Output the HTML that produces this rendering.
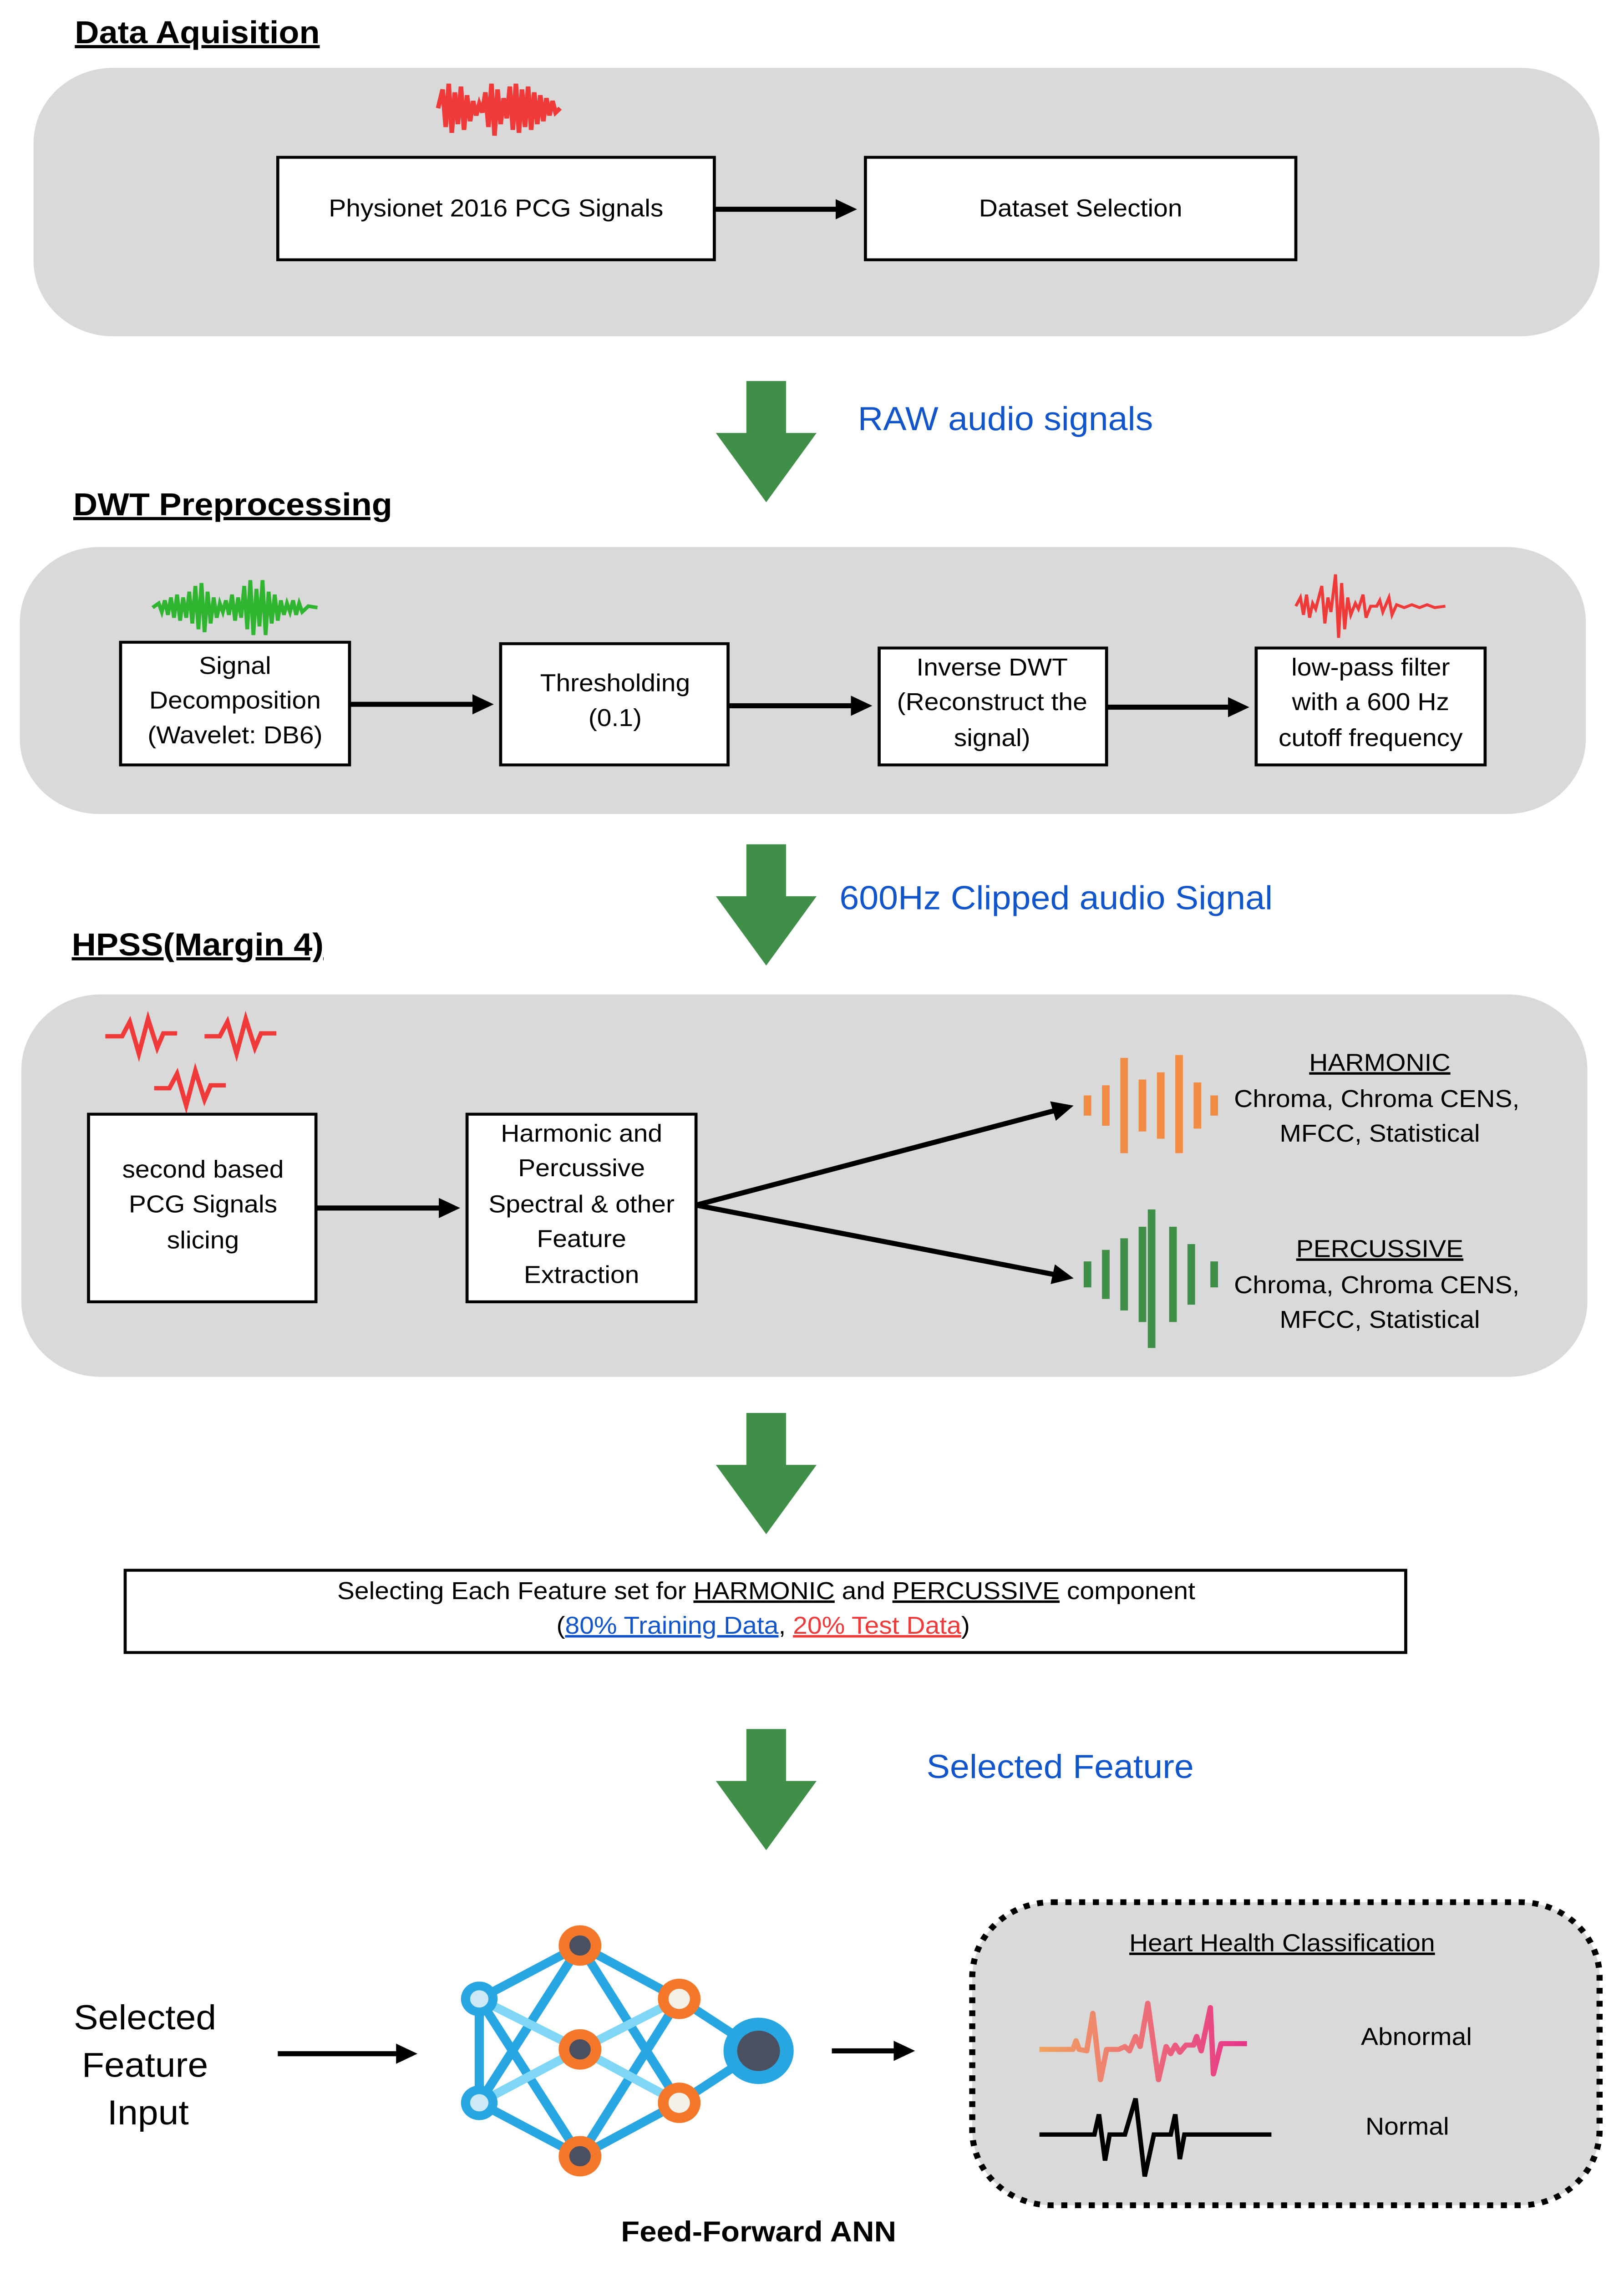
<!DOCTYPE html>
<html><head><meta charset="utf-8"><style>
html,body{margin:0;padding:0;background:#fff;width:100%;height:100%;overflow:hidden;}
svg{display:block;position:absolute;left:0;top:0;width:100%;height:100%;}
text{font-family:"Liberation Sans",Arial,sans-serif;}
</style></head><body>
<svg viewBox="0 0 1064 1577" preserveAspectRatio="none" xmlns="http://www.w3.org/2000/svg">
<defs>
<marker id="ah" markerWidth="4" markerHeight="4" refX="3" refY="2" orient="auto" markerUnits="strokeWidth"><path d="M0,0 L4,2 L0,4 z" fill="#000"/></marker>
<linearGradient id="ab" x1="0" x2="1" y1="0" y2="0"><stop offset="0" stop-color="#f0a35e"/><stop offset="0.5" stop-color="#ec6f77"/><stop offset="1" stop-color="#e6338a"/></linearGradient>
<g id="garrow"><rect x="489" y="0" width="26" height="38" fill="#3f8f48"/><path d="M469,36 L535,36 L502,84 z" fill="#3f8f48"/></g>
</defs>

<text x="49" y="30" font-size="22" font-weight="bold" text-decoration="underline">Data Aquisition</text>
<rect x="22" y="47" width="1026" height="186" rx="52" fill="#d9d9d9"/>
<path d="M287,75 L290,62 L292,88 L294,58 L296,92 L298,64 L300,86 L302,60 L304,90 L306,66 L308,84 L310,70 L312,80 L314,72 L316,78 L318,64 L320,88 L322,58 L324,94 L326,62 L328,86 L330,68 L332,82 L334,60 L336,90 L338,58 L340,92 L342,62 L344,88 L346,60 L348,90 L350,64 L352,86 L354,66 L356,84 L358,68 L360,80 L362,70 L364,78 L367,75" stroke="#f03a3a" stroke-width="3" fill="none"/>
<rect x="182" y="109" width="286" height="71" fill="#fff" stroke="#000" stroke-width="2"/>
<text x="325" y="150" font-size="17" text-anchor="middle">Physionet 2016 PCG Signals</text>
<rect x="567" y="109" width="282" height="71" fill="#fff" stroke="#000" stroke-width="2"/>
<text x="708" y="150" font-size="17" text-anchor="middle">Dataset Selection</text>
<line x1="468" y1="145" x2="558" y2="145" stroke="#000" stroke-width="3.5" marker-end="url(#ah)"/>

<use href="#garrow" y="264"/>
<text x="562" y="298" font-size="23" fill="#1155cc">RAW audio signals</text>

<text x="48" y="357" font-size="22" font-weight="bold" text-decoration="underline">DWT Preprocessing</text>
<rect x="13" y="379" width="1026" height="185" rx="52" fill="#d9d9d9"/>
<path d="M100,421 L104,418 L106,424 L108,416 L110,426 L112,414 L114,428 L116,412 L118,430 L120,414 L122,428 L124,410 L126,432 L128,406 L130,436 L132,404 L134,438 L136,410 L138,432 L140,414 L142,428 L144,418 L146,424 L148,416 L150,426 L152,412 L154,430 L156,414 L158,428 L160,406 L162,436 L164,402 L166,440 L168,408 L170,434 L172,402 L174,440 L176,410 L178,432 L180,412 L182,430 L184,416 L186,426 L188,418 L190,424 L192,416 L194,426 L196,418 L198,424 L202,420 L208,421" stroke="#2fb52f" stroke-width="2.5" fill="none"/>
<path d="M849,420 L852,414 L854,426 L856,412 L858,428 L860,418 L862,422 L866,406 L868,432 L870,414 L872,424 L875,398 L877,442 L879,404 L881,436 L883,414 L885,426 L888,418 L890,422 L893,412 L895,428 L898,420 L902,420 L904,416 L906,424 L910,414 L912,426 L915,419 L920,421 L925,419 L930,421 L935,419 L940,421 L947,420" stroke="#f03a3a" stroke-width="2" fill="none"/>
<rect x="79" y="445" width="150" height="85" fill="#fff" stroke="#000" stroke-width="2"/>
<text font-size="17" text-anchor="middle"><tspan x="154" y="467">Signal</tspan><tspan x="154" y="491">Decomposition</tspan><tspan x="154" y="515">(Wavelet: DB6)</tspan></text>
<rect x="328" y="446" width="149" height="84" fill="#fff" stroke="#000" stroke-width="2"/>
<text font-size="17" text-anchor="middle"><tspan x="403" y="479">Thresholding</tspan><tspan x="403" y="503">(0.1)</tspan></text>
<rect x="576" y="449" width="149" height="81" fill="#fff" stroke="#000" stroke-width="2"/>
<text font-size="17" text-anchor="middle"><tspan x="650" y="468">Inverse DWT</tspan><tspan x="650" y="492">(Reconstruct the</tspan><tspan x="650" y="517">signal)</tspan></text>
<rect x="823" y="449" width="150" height="81" fill="#fff" stroke="#000" stroke-width="2"/>
<text font-size="17" text-anchor="middle"><tspan x="898" y="468">low-pass filter</tspan><tspan x="898" y="492">with a 600 Hz</tspan><tspan x="898" y="517">cutoff frequency</tspan></text>
<line x1="229" y1="488" x2="320" y2="488" stroke="#000" stroke-width="3.5" marker-end="url(#ah)"/>
<line x1="477" y1="489" x2="568" y2="489" stroke="#000" stroke-width="3.5" marker-end="url(#ah)"/>
<line x1="725" y1="490" x2="815" y2="490" stroke="#000" stroke-width="3.5" marker-end="url(#ah)"/>

<use href="#garrow" y="585"/>
<text x="550" y="630" font-size="23" fill="#1155cc">600Hz Clipped audio Signal</text>

<text x="47" y="662" font-size="22" font-weight="bold" text-decoration="underline">HPSS(Margin 4)</text>
<rect x="14" y="689" width="1026" height="265" rx="52" fill="#d9d9d9"/>
<g stroke="#f03a3a" stroke-width="3" fill="none">
<path d="M69,718 L80,718 L85,708 L91,730 L97,706 L103,726 L107,716 L116,716"/>
<path d="M134,718 L144,718 L149,708 L155,730 L161,706 L167,726 L171,716 L181,716"/>
<path d="M101,754 L111,754 L116,744 L122,766 L128,742 L134,762 L138,752 L148,752"/>
</g>
<rect x="58" y="772" width="149" height="130" fill="#fff" stroke="#000" stroke-width="2"/>
<text font-size="17" text-anchor="middle"><tspan x="133" y="816">second based</tspan><tspan x="133" y="840">PCG Signals</tspan><tspan x="133" y="865">slicing</tspan></text>
<rect x="306" y="772" width="150" height="130" fill="#fff" stroke="#000" stroke-width="2"/>
<text font-size="17" text-anchor="middle"><tspan x="381" y="791">Harmonic and</tspan><tspan x="381" y="815">Percussive</tspan><tspan x="381" y="840">Spectral &amp; other</tspan><tspan x="381" y="864">Feature</tspan><tspan x="381" y="889">Extraction</tspan></text>
<line x1="207" y1="837" x2="298" y2="837" stroke="#000" stroke-width="3.5" marker-end="url(#ah)"/>
<line x1="456" y1="835" x2="700" y2="767" stroke="#000" stroke-width="3.5" marker-end="url(#ah)"/>
<line x1="456" y1="835" x2="700" y2="885" stroke="#000" stroke-width="3.5" marker-end="url(#ah)"/>
<g fill="#f28c45">
<rect x="710" y="759" width="5" height="14"/><rect x="722" y="752" width="5" height="28"/><rect x="734" y="733" width="5" height="66"/><rect x="746" y="748" width="5" height="36"/><rect x="758" y="743" width="5" height="46"/><rect x="770" y="731" width="5" height="68"/><rect x="782" y="750" width="5" height="32"/><rect x="793" y="759" width="5" height="14"/>
</g>
<g fill="#3f8f48">
<rect x="710" y="874" width="5" height="18"/><rect x="722" y="866" width="5" height="34"/><rect x="734" y="858" width="5" height="50"/><rect x="746" y="850" width="5" height="66"/><rect x="752" y="838" width="5" height="96"/><rect x="766" y="850" width="5" height="66"/><rect x="778" y="862" width="5" height="42"/><rect x="793" y="874" width="5" height="18"/>
</g>
<text font-size="17" text-anchor="middle"><tspan x="904" y="742" text-decoration="underline">HARMONIC</tspan><tspan x="902" y="767">Chroma, Chroma CENS,</tspan><tspan x="904" y="791">MFCC, Statistical</tspan></text>
<text font-size="17" text-anchor="middle"><tspan x="904" y="871" text-decoration="underline">PERCUSSIVE</tspan><tspan x="902" y="896">Chroma, Chroma CENS,</tspan><tspan x="904" y="920">MFCC, Statistical</tspan></text>

<use href="#garrow" y="979"/>

<rect x="82" y="1088" width="839" height="57" fill="#fff" stroke="#000" stroke-width="2"/>
<text font-size="17" text-anchor="middle"><tspan x="502" y="1108">Selecting Each Feature set for <tspan text-decoration="underline">HARMONIC</tspan> and <tspan text-decoration="underline">PERCUSSIVE</tspan> component</tspan><tspan x="500" y="1132">(<tspan fill="#1155cc" text-decoration="underline">80% Training Data</tspan>, <tspan fill="#f03a3a" text-decoration="underline">20% Test Data</tspan>)</tspan></text>

<use href="#garrow" y="1198"/>
<text x="607" y="1232" font-size="23" fill="#1155cc">Selected Feature</text>

<text font-size="24" text-anchor="middle"><tspan x="95" y="1406">Selected</tspan><tspan x="95" y="1439">Feature</tspan><tspan x="97" y="1472">Input</tspan></text>
<line x1="182" y1="1423" x2="270" y2="1423" stroke="#000" stroke-width="3.5" marker-end="url(#ah)"/>
<line x1="545" y1="1421" x2="596" y2="1421" stroke="#000" stroke-width="3.5" marker-end="url(#ah)"/>
<g stroke="#27a6e2" stroke-width="6" stroke-linecap="round">
<line x1="314" y1="1385" x2="380" y2="1348"/><line x1="314" y1="1385" x2="380" y2="1494"/>
<line x1="314" y1="1457" x2="380" y2="1348"/><line x1="314" y1="1457" x2="380" y2="1494"/>
<line x1="380" y1="1348" x2="445" y2="1385"/><line x1="380" y1="1348" x2="445" y2="1457"/>
<line x1="380" y1="1494" x2="445" y2="1385"/><line x1="380" y1="1494" x2="445" y2="1457"/>
<line x1="314" y1="1385" x2="314" y2="1457"/>
<line x1="445" y1="1385" x2="497" y2="1421"/><line x1="445" y1="1457" x2="497" y2="1421"/>
</g>
<g stroke="#7fd6f5" stroke-width="6" stroke-linecap="round">
<line x1="314" y1="1385" x2="380" y2="1420"/><line x1="314" y1="1457" x2="380" y2="1420"/>
<line x1="380" y1="1420" x2="445" y2="1385"/><line x1="380" y1="1420" x2="445" y2="1457"/>
</g>
<g>
<circle cx="314" cy="1385" r="12" fill="#27a6e2"/><circle cx="314" cy="1385" r="6" fill="#cde9f5"/>
<circle cx="314" cy="1457" r="12" fill="#27a6e2"/><circle cx="314" cy="1457" r="6" fill="#cde9f5"/>
<circle cx="380" cy="1348" r="14" fill="#f4772a"/><circle cx="380" cy="1348" r="7" fill="#4a5060"/>
<circle cx="380" cy="1420" r="14" fill="#f4772a"/><circle cx="380" cy="1420" r="7" fill="#4a5060"/>
<circle cx="380" cy="1494" r="14" fill="#f4772a"/><circle cx="380" cy="1494" r="7" fill="#4a5060"/>
<circle cx="445" cy="1385" r="14" fill="#f4772a"/><circle cx="445" cy="1385" r="7" fill="#f3f0e8"/>
<circle cx="445" cy="1457" r="14" fill="#f4772a"/><circle cx="445" cy="1457" r="7" fill="#f3f0e8"/>
<circle cx="497" cy="1421" r="23" fill="#27a6e2"/><circle cx="497" cy="1421" r="14" fill="#4a5060"/>
</g>
<text x="497" y="1553" font-size="20" font-weight="bold" text-anchor="middle">Feed-Forward ANN</text>

<rect x="637" y="1318" width="411" height="210" rx="52" fill="#d9d9d9" stroke="#000" stroke-width="4" stroke-dasharray="4,5"/>
<text x="840" y="1352" font-size="17" text-anchor="middle" text-decoration="underline">Heart Health Classification</text>
<path d="M681,1420 L703,1420 L705,1414 L707,1420 L712,1421 L716,1395 L721,1441 L725,1420 L733,1420 L737,1418 L740,1421 L744,1411 L747,1418 L752,1388 L759,1441 L764,1418 L767,1423 L770,1417 L773,1422 L777,1417 L782,1417 L784,1411 L787,1421 L793,1391 L795,1437 L800,1416 L817,1416" stroke="url(#ab)" stroke-width="3.5" fill="none" stroke-linejoin="round"/>
<path d="M681,1479 L717,1479 L720,1465 L724,1497 L727,1479 L737,1479 L744,1454 L750,1508 L756,1479 L767,1479 L770,1465 L773,1496 L776,1479 L833,1479" stroke="#000" stroke-width="3" fill="none"/>
<text x="928" y="1417" font-size="17" text-anchor="middle">Abnormal</text>
<text x="922" y="1479" font-size="17" text-anchor="middle">Normal</text>
</svg>
</body></html>
